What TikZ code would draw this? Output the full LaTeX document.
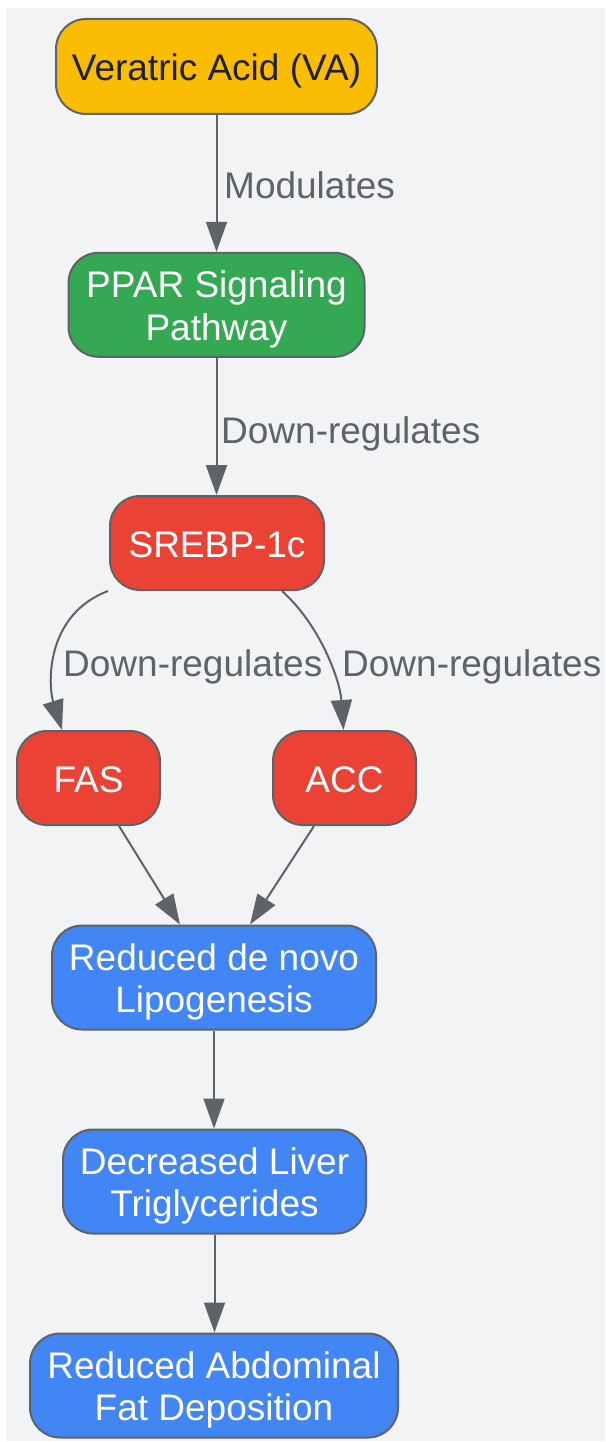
\documentclass[tikz,border=0pt]{standalone}
\usepackage{fontspec}
\setmainfont{Liberation Sans}
\usetikzlibrary{arrows.meta}
\definecolor{bgc}{HTML}{F1F3F4}
\definecolor{bord}{HTML}{5F6368}
\definecolor{vay}{HTML}{FBBC04}
\definecolor{grn}{HTML}{34A853}
\definecolor{rd}{HTML}{EA4335}
\definecolor{bl}{HTML}{4285F4}
\definecolor{txtd}{HTML}{202124}
\newcommand\topstrut{\rule{0pt}{36pt}}
\newcommand\botstrut{\rule[-8pt]{0pt}{8pt}}
\begin{document}
\begin{tikzpicture}[x=1pt,y=-1pt,
  box/.style={draw=bord, line width=2pt, rounded corners=30pt, inner sep=0pt, align=center,
    font=\fontsize{37}{42.5}\selectfont, text=white},
  oneline/.style={text height=28.5pt, text depth=0pt},
  edge/.style={draw=bord, line width=2pt, -{Triangle[length=30pt,width=21pt]}},
  elabel/.style={text=bord, inner sep=0pt, font=\fontsize{37}{42.5}\selectfont, anchor=base west}]
\useasboundingbox (0,0) rectangle (605,1442);
\fill[bgc] (6,8) rectangle (605,1441);

\node[box, oneline, fill=vay, text=txtd, minimum width=321pt, minimum height=95pt] (va) at (216.5,66.5) {Veratric Acid (VA)};
\node[box, fill=grn, minimum width=296pt, minimum height=104pt] (ppar) at (216.5,304.8) {\topstrut PPAR Signaling\\Pathway\botstrut};
\node[box, oneline, fill=rd, minimum width=214pt, minimum height=94pt] (srebp) at (217,543) {SREBP-1c};
\node[box, oneline, fill=rd, minimum width=143pt, minimum height=94pt] (fas) at (88.5,778) {FAS};
\node[box, oneline, fill=rd, minimum width=143pt, minimum height=94pt] (acc) at (344.5,778) {ACC};
\node[box, fill=bl, minimum width=324pt, minimum height=104pt] (lipo) at (214,977.5) {\topstrut Reduced de novo\\Lipogenesis\botstrut};
\node[box, fill=bl, minimum width=303pt, minimum height=104pt] (dec) at (214.5,1181.5) {\topstrut Decreased Liver\\Triglycerides\botstrut};
\node[box, fill=bl, minimum width=368pt, minimum height=104pt] (fat) at (214,1385.5) {\topstrut Reduced Abdominal\\Fat Deposition\botstrut};

\draw[edge] (va.south) -- (va.south |- ppar.north);
\draw[edge] (ppar.south) -- (ppar.south |- srebp.north);
\draw[edge] ([xshift=-1pt]srebp.south west) .. controls (45,615) and (48,685) .. ([xshift=-26.5pt]fas.north);
\draw[edge] ([xshift=65pt]srebp.south) .. controls (320,625) and (340,680) .. ([xshift=-1pt]acc.north);
\draw[edge] ([xshift=30.5pt]fas.south) -- ([xshift=-34pt]lipo.north);
\draw[edge] ([xshift=-30.5pt]acc.south) -- ([xshift=36pt]lipo.north);
\draw[edge] (lipo.south) -- (lipo.south |- dec.north);
\draw[edge] (dec.south) -- (dec.south |- fat.north);

\node[elabel] (l1) at (224,199) {Modulates};
\node[elabel] (l2) at (221,443) {Down-regulates};
\node[elabel] (l3) at (63,676) {Down-regulates};
\node[elabel] (l4) at (342,676) {Down-regulates};
\end{tikzpicture}
\end{document}
